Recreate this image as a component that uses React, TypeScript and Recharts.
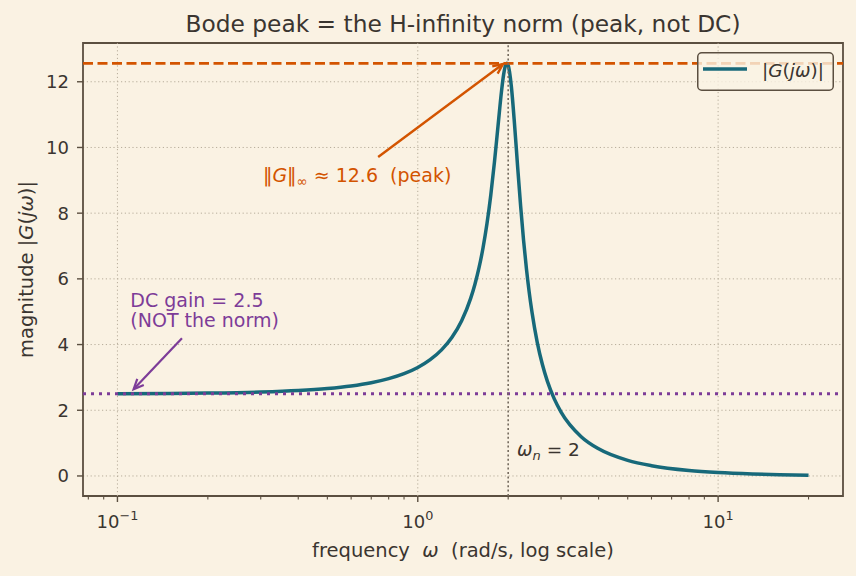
import React from 'react';
import {
  LineChart, Line, XAxis, YAxis, CartesianGrid, ReferenceLine, ReferenceDot, ReferenceArea, Legend,
} from 'recharts';

// ---------- data ----------
const omega = [0.1, 0.15, 0.2, 0.3, 0.4, 0.5, 0.6, 0.7, 0.8, 0.9, 1.0, 1.1, 1.2, 1.3, 1.4, 1.5, 1.55, 1.6, 1.65, 1.7, 1.75, 1.8, 1.85, 1.9, 1.93, 1.96, 1.98, 2.0, 2.02, 2.05, 2.1, 2.15, 2.2, 2.25, 2.3, 2.35, 2.4, 2.5, 2.6, 2.7, 2.85, 3.0, 3.5, 4, 5, 6, 8, 10, 13, 16, 20];
const magnitude = [2.506, 2.514, 2.525, 2.556, 2.602, 2.663, 2.741, 2.840, 2.963, 3.115, 3.304, 3.541, 3.839, 4.223, 4.727, 5.405, 5.836, 6.346, 6.955, 7.682, 8.547, 9.552, 10.653, 11.706, 12.202, 12.503, 12.563, 12.500, 12.315, 11.839, 10.698, 9.419, 8.220, 7.182, 6.311, 5.589, 4.988, 4.061, 3.391, 2.888, 2.338, 1.945, 1.195, 0.826, 0.474, 0.312, 0.166, 0.104, 0.061, 0.040, 0.025];

const hInfNorm = 12.56;
const dcGain = 2.5;
const naturalFreq = 2;

const majorXTicks = [0.1, 1, 10];
const minorXTicks = [0.08, 0.09, 0.2, 0.3, 0.4, 0.5, 0.6, 0.7, 0.8, 0.9, 2, 3, 4, 5, 6, 7, 8, 9, 20];
const yTicks = [0, 2, 4, 6, 8, 10, 12];
const xDomain = [0.0768, 26.05];
const yDomain = [-0.61, 13.18];

// annotation anchors (data coordinates)
const peakLabelPos = { x: 0.305, y: 8.94 };
const peakArrow = { from: { x: 0.738, y: 9.71 }, to: { x: 1.922, y: 12.54 } };
const dcLabelPos = { x: 0.1104, y: 5.15 };
const dcLabelPos2 = { x: 0.1104, y: 4.52 };
const dcArrow = { from: { x: 0.164, y: 4.19 }, to: { x: 0.1132, y: 2.64 } };
const wnLabelPos = { x: 2.14, y: 0.61 };

const data = omega.map((w, i) => ({ w, mag: magnitude[i] }));

// ---------- style ----------
const BG = '#faf2e3';
const TEXT = '#3a3530';
const SPINE = '#5b4f40';
const GRID = '#b7ad9b';
const TEAL = '#17697a';
const ORANGE = '#d35400';
const PURPLE = '#7d3c98';
const FONT = 'DejaVu Sans, Verdana, sans-serif';

const XTick = (props: any) => {
  const { x, y, payload } = props;
  const v = payload.value;
  const major = majorXTicks.some((m) => Math.abs(m - v) < 1e-9);
  const exp = Math.round(Math.log10(v));
  return (
    <g>
      <line x1={x} x2={x} y1={y} y2={y + (major ? 6 : 3.5)} stroke={SPINE} strokeWidth={major ? 1.4 : 1.1} />
      {major && (
        <text x={x} y={y + 31.6} textAnchor="middle" fill={TEXT} fontSize={18} fontFamily={FONT}>
          10
          <tspan dy={-7.3} fontSize={12.8}>{exp < 0 ? '\u2212' + Math.abs(exp) : String(exp)}</tspan>
        </text>
      )}
    </g>
  );
};

const arrowShape = (color: string, width: number) => (props: any) => {
  const { x1, y1, x2, y2 } = props;
  if ([x1, y1, x2, y2].some((v) => v === undefined || Number.isNaN(v))) return <g />;
  const ang = Math.atan2(y2 - y1, x2 - x1);
  const L = 11;
  const spread = 0.42;
  const ax = x2 - L * Math.cos(ang - spread);
  const ay = y2 - L * Math.sin(ang - spread);
  const bx = x2 - L * Math.cos(ang + spread);
  const by = y2 - L * Math.sin(ang + spread);
  return (
    <g>
      <line x1={x1} y1={y1} x2={x2} y2={y2} stroke={color} strokeWidth={width} />
      <polyline points={`${ax},${ay} ${x2},${y2} ${bx},${by}`} fill="none" stroke={color} strokeWidth={width} strokeLinejoin="miter" />
    </g>
  );
};

const textShape = (render: (cx: number, cy: number) => React.ReactNode) => (props: any) => {
  const { cx, cy } = props;
  if (cx === undefined || cy === undefined) return <g />;
  return <g>{render(cx, cy)}</g>;
};

const LegendBox = () => (
  <svg width={137} height={39} style={{ display: 'block' }}>
    <rect x={0.75} y={0.75} width={135.5} height={37.5} rx={4} ry={4} fill="rgba(250,242,227,0.8)" stroke={SPINE} strokeWidth={1.5} />
    <line x1={6} x2={50} y1={17} y2={17} stroke={TEAL} strokeWidth={3.5} />
    <text x={65} y={25} fill={TEXT} fontSize={18.5} fontFamily={FONT}>
      |<tspan fontStyle="italic">G</tspan>(<tspan fontStyle="italic">j</tspan><tspan fontStyle="italic">ω</tspan>)|
    </text>
  </svg>
);

export default function App() {
  return (
    <div style={{ position: 'absolute', left: 0, top: 0, width: 856, height: 576, background: BG }}>
      <LineChart
        width={856}
        height={576}
        data={data}
        margin={{ top: 43, right: 13, left: 23, bottom: 20 }}
        style={{ fontFamily: FONT }}
      >
        <CartesianGrid vertical={false} stroke={GRID} strokeDasharray="1.2 2.6" strokeWidth={1} />
        {majorXTicks.map((t) => (
          <ReferenceLine key={'vg' + t} x={t} stroke={GRID} strokeDasharray="1.2 2.6" strokeWidth={1} />
        ))}
        <XAxis
          dataKey="w"
          type="number"
          scale="log"
          domain={xDomain}
          allowDataOverflow
          ticks={[...majorXTicks, ...minorXTicks].sort((a, b) => a - b)}
          interval={0}
          axisLine={false}
          tickLine={false}
          tickSize={0}
          tickMargin={0}
          height={60}
          tick={<XTick />}
        />
        <YAxis
          type="number"
          domain={yDomain}
          allowDataOverflow
          ticks={yTicks}
          interval={0}
          width={60}
          axisLine={false}
          tickSize={6}
          tickMargin={8}
          tickLine={{ stroke: SPINE, strokeWidth: 1.4 }}
          tick={{ fill: TEXT, fontSize: 18, fontFamily: FONT }}
        />
        <Line
          type="monotone"
          dataKey="mag"
          stroke={TEAL}
          strokeWidth={3.5}
          dot={false}
          activeDot={false}
          isAnimationActive={false}
        />
        <ReferenceLine y={hInfNorm} stroke={ORANGE} strokeWidth={2.8} strokeDasharray="10 4.5" />
        <ReferenceLine y={dcGain} stroke={PURPLE} strokeWidth={3} strokeDasharray="3 5" />
        <ReferenceLine x={naturalFreq} stroke="#766c60" strokeWidth={1.6} strokeDasharray="2 2.4" />
        <ReferenceArea
          x1={xDomain[0]}
          x2={xDomain[1]}
          y1={yDomain[0]}
          y2={yDomain[1]}
          fill="none"
          fillOpacity={0}
          stroke={SPINE}
          strokeWidth={1.8}
          ifOverflow="visible"
        />
        <ReferenceLine
          segment={[peakArrow.from, peakArrow.to]}
          ifOverflow="visible"
          shape={arrowShape(ORANGE, 2.4)}
        />
        <ReferenceLine
          segment={[dcArrow.from, dcArrow.to]}
          ifOverflow="visible"
          shape={arrowShape(PURPLE, 2.2)}
        />
        <ReferenceDot
          x={peakLabelPos.x}
          y={peakLabelPos.y}
          r={0}
          ifOverflow="visible"
          shape={textShape((cx, cy) => (
            <text x={cx} y={cy} fill={ORANGE} fontSize={19} fontFamily={FONT} style={{ whiteSpace: 'pre' }}>
              ‖<tspan fontStyle="italic">G</tspan>‖<tspan fontSize={13.3} dy={4}>∞</tspan>
              <tspan dy={-4}>{' \u2248 12.6  (peak)'}</tspan>
            </text>
          ))}
        />
        <ReferenceDot
          x={dcLabelPos.x}
          y={dcLabelPos.y}
          r={0}
          ifOverflow="visible"
          shape={textShape((cx, cy) => (
            <text x={cx} y={cy} fill={PURPLE} fontSize={19} fontFamily={FONT}>DC gain = 2.5</text>
          ))}
        />
        <ReferenceDot
          x={dcLabelPos2.x}
          y={dcLabelPos2.y}
          r={0}
          ifOverflow="visible"
          shape={textShape((cx, cy) => (
            <text x={cx} y={cy} fill={PURPLE} fontSize={19} fontFamily={FONT}>(NOT the norm)</text>
          ))}
        />
        <ReferenceDot
          x={wnLabelPos.x}
          y={wnLabelPos.y}
          r={0}
          ifOverflow="visible"
          shape={textShape((cx, cy) => (
            <text x={cx} y={cy} fill={TEXT} fontSize={18.5} fontFamily={FONT} style={{ whiteSpace: 'pre' }}>
              <tspan fontStyle="italic">ω</tspan>
              <tspan fontStyle="italic" fontSize={13} dy={4}>n</tspan>
              <tspan dy={-4}>{' = 2'}</tspan>
            </text>
          ))}
        />
        <Legend
          layout="horizontal"
          verticalAlign="middle"
          align="center"
          wrapperStyle={{ position: 'absolute', left: 697, top: 52, width: 137, height: 39 }}
          content={() => <LegendBox />}
        />
        <text x={463} y={32.3} textAnchor="middle" fill={TEXT} fontSize={23.3} fontFamily={FONT}>
          Bode peak = the H-infinity norm (peak, not DC)
        </text>
        <text x={463} y={556.5} textAnchor="middle" fill={TEXT} fontSize={19.5} fontFamily={FONT} style={{ whiteSpace: 'pre' }}>
          {'frequency  '}<tspan fontStyle="italic">ω</tspan>{'  (rad/s, log scale)'}
        </text>
        <text
          x={32.5}
          y={269.5}
          textAnchor="middle"
          fill={TEXT}
          fontSize={19.5}
          fontFamily={FONT}
          transform="rotate(-90 32.5 269.5)"
        >
          magnitude |<tspan fontStyle="italic">G</tspan>(<tspan fontStyle="italic">j</tspan><tspan fontStyle="italic">ω</tspan>)|
        </text>
      </LineChart>
    </div>
  );
}
